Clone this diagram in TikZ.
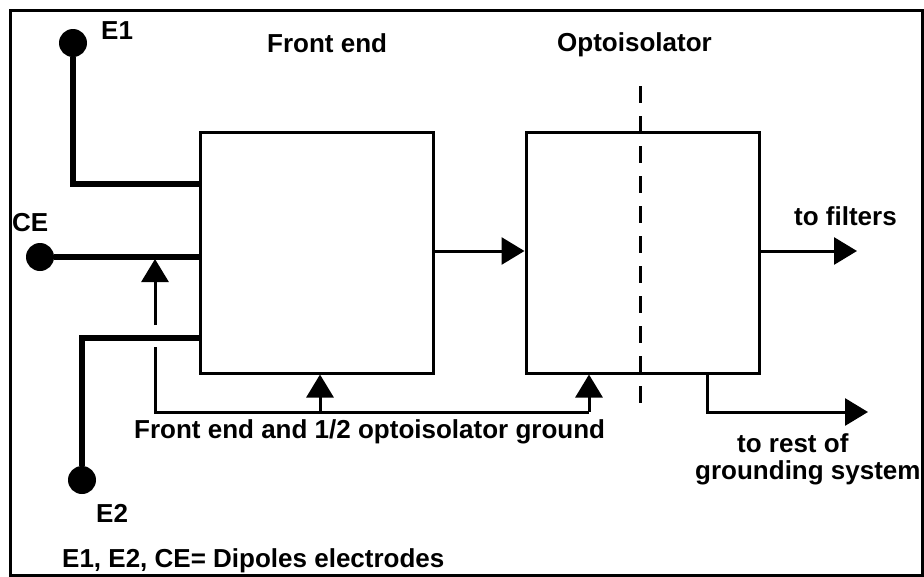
\documentclass[tikz,border=0pt]{standalone}
\usepackage{fontspec}
\setmainfont{Liberation Sans}
\usetikzlibrary{arrows.meta}
\usetikzlibrary{positioning}

\begin{document}
\begin{tikzpicture}[x=1pt,y=-1pt]
	 \tikzstyle{block}=[draw,line width=3pt,minimum width=233pt,minimum height=241pt,inner sep=0pt]
	 \tikzstyle{electrode}=[circle,fill=black,minimum size=28pt,inner sep=0pt]
	 \tikzstyle{lead}=[draw,line width=5.5pt]
	 \tikzstyle{wire}=[draw,line width=3pt]
	 \tikzstyle{arr}=[wire,-{Triangle[length=23pt,width=27pt]}]
	 \tikzstyle{txt}=[font=\bfseries\fontsize{26}{30}\selectfont,inner sep=0pt,anchor=base west]

	 \useasboundingbox (0,0) rectangle (924,576);
	 \draw[line width=3pt] (10,10) rectangle (922,575);

	 \node[block] (fe) at (316.5,252.5) {};
	 \node[block] (opto) at (642.5,252.5) {};

	 \node[electrode] (e1) at (73,43) {};
	 \node[electrode] (ce) at (40,257) {};
	 \node[electrode] (e2) at (82,480) {};

	 \coordinate (e1in) at (200,184);
	 \coordinate (cein) at (200,257);
	 \coordinate (e2in) at (200,338);

	 \draw[lead] (e1) |- (e1in);
	 \draw[lead] (ce) -- (cein);
	 \draw[lead] (e2) |- (e2in);

	 % ground return
	 \coordinate (gl) at (155,412);
	 \coordinate (gm) at (320,412);
	 \coordinate (gr) at (589,412);
	 \coordinate (gapb) at (155,347);
	 \coordinate (gapt) at (155,325);
	 \coordinate (cetap) at (155,259);
	 \draw[wire] (gapb) |- (gr);
	 \draw[arr] (gapt) -- (cetap);
	 \draw[arr] (gm) -- (gm |- fe.south);
	 \draw[arr] (gr) -- (gr |- opto.south);

	 % signal path
	 \coordinate (filt) at (857,251);
	 \coordinate (gtap) at (707,373);
	 \coordinate (rest) at (868,412);
	 \draw[arr] (fe.east |- filt) -- (opto.west |- filt);
	 \draw[arr] (opto.east |- filt) -- (filt);
	 \draw[arr] (gtap) |- (rest);

	 \draw[line width=3pt,dash pattern=on 17pt off 13pt] (640,86) -- (640,407);

	 \node[txt] (le1) at (101,39) {E1};
	 \node[txt] (lce) at (12,231) {CE};
	 \node[txt] (le2) at (96,522) {E2};
	 \node[txt] (lfe) at (267,52) {Front end};
	 \node[txt] (lopto) at (557,51) {Optoisolator};
	 \node[txt] (lfilt) at (794,225) {to filters};
	 \node[txt] (lrest) at (737,452) {to rest of};
	 \node[txt] (lsys) at (695,479) {grounding system};
	 \node[txt] (lgnd) at (134,438) {Front end and 1/2 optoisolator ground};
	 \node[txt] (lkey) at (62,567) {E1, E2, CE= Dipoles electrodes};

 \end{tikzpicture}
\end{document}
